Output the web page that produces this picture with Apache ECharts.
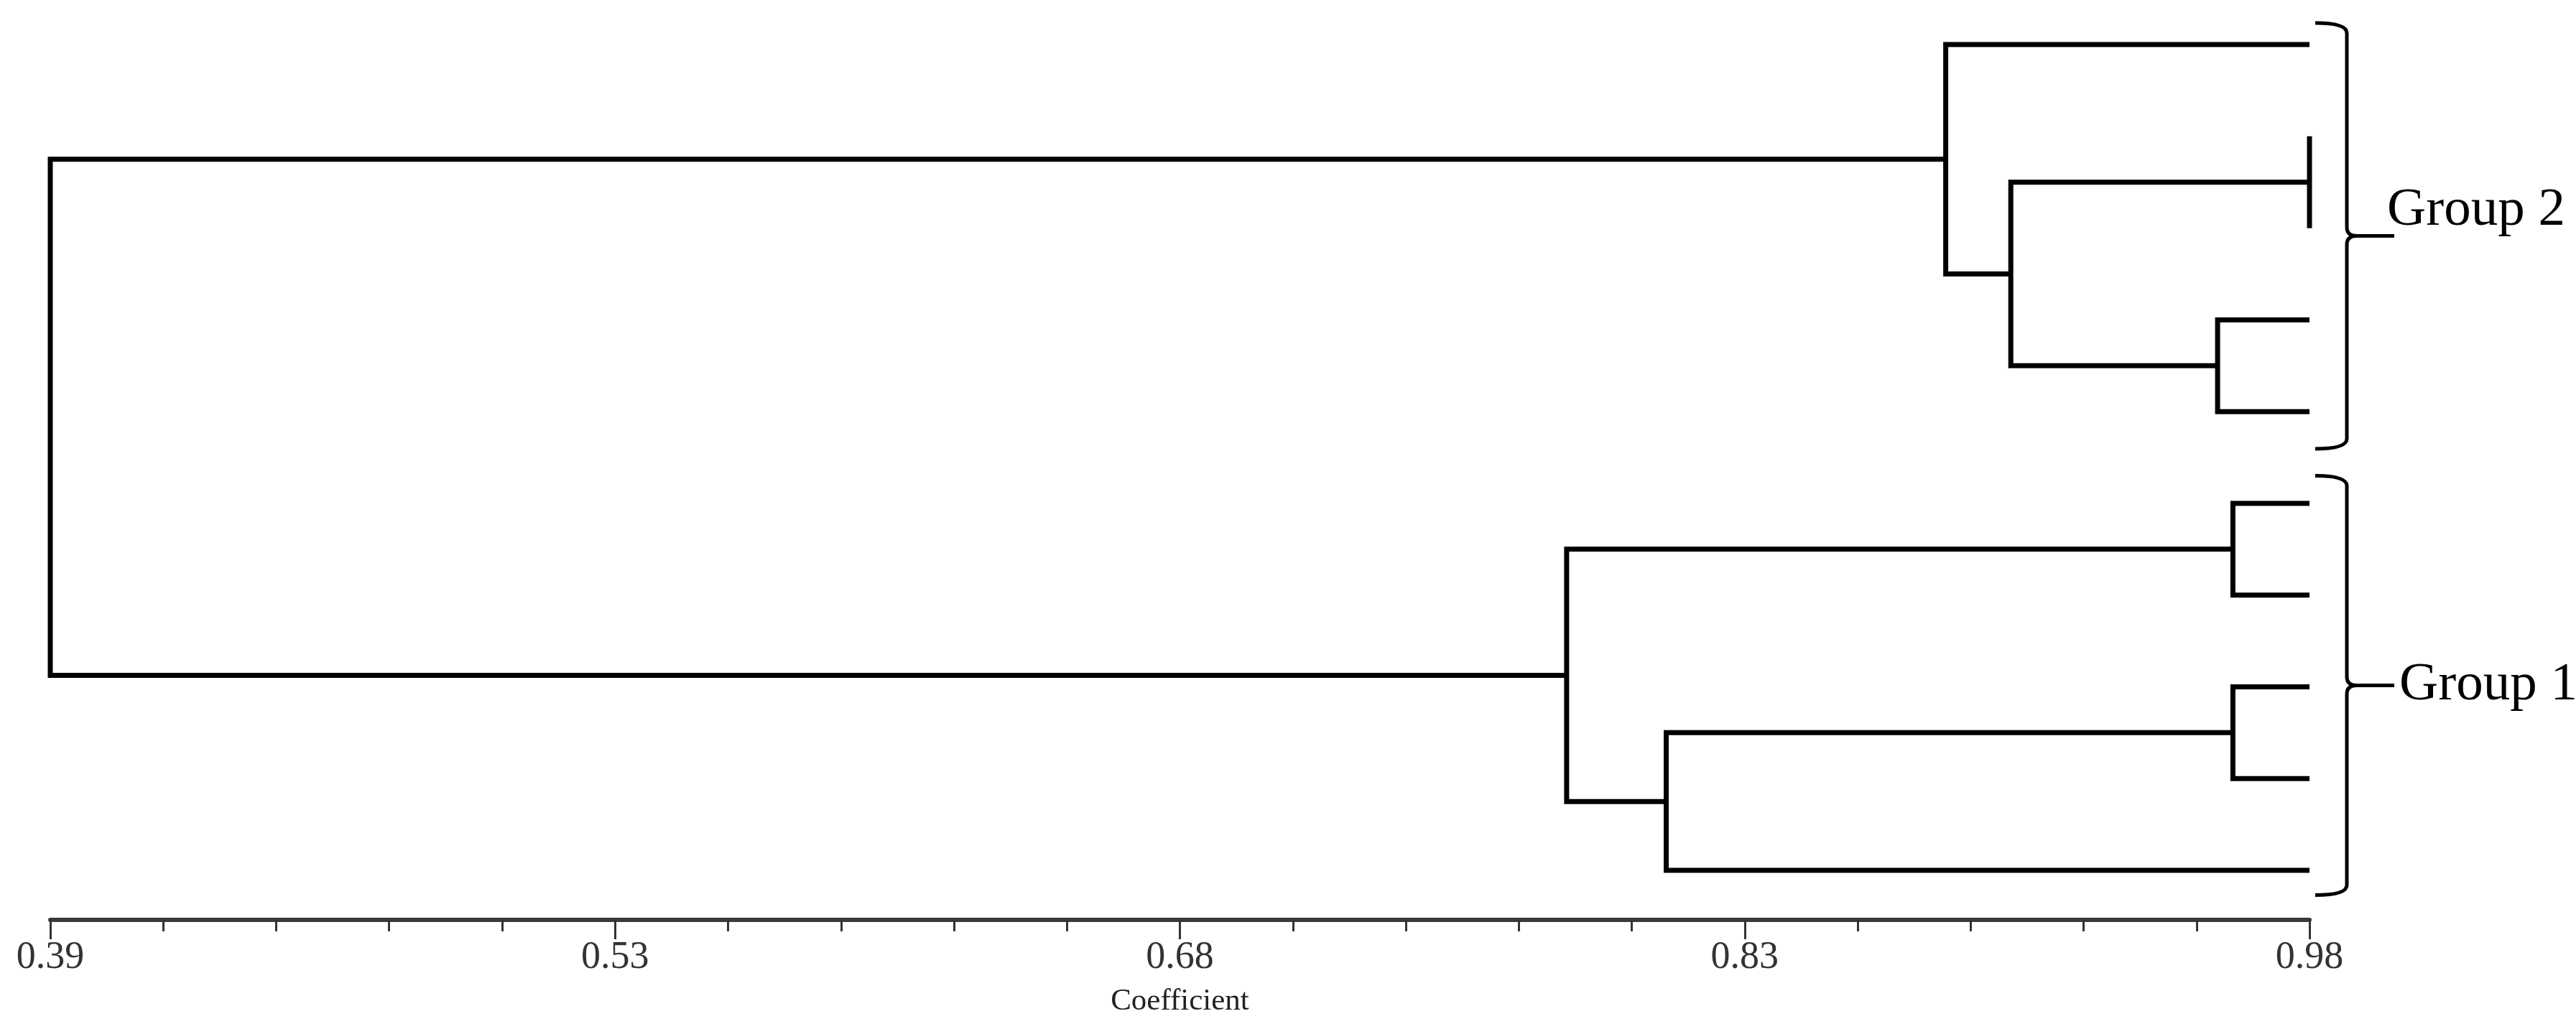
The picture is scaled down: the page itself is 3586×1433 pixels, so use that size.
<!DOCTYPE html>
<html>
<head>
<meta charset="utf-8">
<title>Dendrogram</title>
<script src="https://cdn.jsdelivr.net/npm/echarts@6/dist/echarts.min.js"></script>
<style>
  html, body { margin: 0; padding: 0; background: #fff; }
  #chart { width: 3586px; height: 1433px; }
</style>
</head>
<body>
<div id="chart"></div>
<script>
// leaves, top to bottom (no labels shown in the figure)
var leaves = ['1', '2', '3', '4', '5', '6', '7', '8', '9', '10'];
var leafCoef = 0.98;

// linkage: node 10+k joins mergeA[k] and mergeB[k] at mergeCoef[k]
var mergeA = [1, 3, 5, 7, 10, 0, 13, 12, 15];
var mergeB = [2, 4, 6, 8, 11, 14, 9, 16, 17];
var mergeCoef = [0.98, 0.956, 0.960, 0.960, 0.902, 0.885, 0.812, 0.786, 0.39];

// axis
var axisMin = 0.39;
var axisMax = 0.98;
var tickLabels = ['0.39', '0.53', '0.68', '0.83', '0.98'];

// groups (bracket extent in leaf units)
var groupNames = ['Group 2', 'Group 1'];
var groupTop = [-0.235, 4.70];
var groupBottom = [4.405, 9.27];

// build node coordinates
var nodeX = [];
var nodeY = [];
for (var i = 0; i < leaves.length; i++) {
  nodeX.push(leafCoef);
  nodeY.push(i);
}
var branchLines = [];
for (var k = 0; k < mergeCoef.length; k++) {
  var a = mergeA[k], b = mergeB[k], c = mergeCoef[k];
  var y = (nodeY[a] + nodeY[b]) / 2;
  branchLines.push({
    coords: [[nodeX[a], nodeY[a]], [c, nodeY[a]], [c, nodeY[b]], [nodeX[b], nodeY[b]]]
  });
  nodeX.push(c);
  nodeY.push(y);
}

var step = (axisMax - axisMin) / (tickLabels.length - 1);
var labelDx = [108, 125];
var labelDy = [-35, 0];

var myChart = echarts.init(document.getElementById('chart'));
var option = {
  backgroundColor: '#fff',
  animation: false,
  grid: { left: 70, right: 371, top: 11, bottom: 152, containLabel: false },
  xAxis: {
    type: 'value',
    min: axisMin,
    max: axisMax,
    interval: step,
    name: 'Coefficient',
    nameLocation: 'middle',
    nameGap: 92,
    nameTextStyle: { fontFamily: 'Liberation Serif', fontSize: 43, color: '#222' },
    axisLine: { show: true, onZero: false, lineStyle: { color: '#3a3a3a', width: 6 } },
    axisTick: { show: true, length: 27, lineStyle: { color: '#333', width: 3 } },
    minorTick: { show: true, splitNumber: 5, length: 16, lineStyle: { color: '#333', width: 3 } },
    splitLine: { show: false },
    minorSplitLine: { show: false },
    axisLabel: {
      margin: 26,
      fontFamily: 'Liberation Serif',
      fontSize: 54,
      color: '#333',
      showMinLabel: true,
      showMaxLabel: true,
      formatter: function (v) {
        return tickLabels[Math.round((v - axisMin) / step)];
      }
    }
  },
  yAxis: {
    type: 'value',
    inverse: true,
    min: -0.4,
    max: 9.54,
    show: false
  },
  series: [
    {
      type: 'lines',
      coordinateSystem: 'cartesian2d',
      polyline: true,
      silent: true,
      lineStyle: { color: '#000', width: 7, opacity: 1, curveness: 0 },
      data: branchLines
    },
    {
      type: 'custom',
      silent: true,
      data: groupNames.map(function (n, i) { return [groupTop[i], groupBottom[i]]; }),
      renderItem: function (params, api) {
        var idx = params.dataIndex;
        var x0 = api.coord([axisMax, 0])[0];
        var yT = api.coord([axisMax, api.value(0)])[1];
        var yB = api.coord([axisMax, api.value(1)])[1];
        var yM = (yT + yB) / 2;
        var vx = x0 + 52, curlX = x0 + 8, tipX = vx + 14, endX = x0 + 118;
        var d = 'M' + curlX + ',' + yT +
          ' Q' + vx + ',' + yT + ' ' + vx + ',' + (yT + 14) +
          ' L' + vx + ',' + (yM - 12) +
          ' Q' + vx + ',' + yM + ' ' + tipX + ',' + yM +
          ' Q' + vx + ',' + yM + ' ' + vx + ',' + (yM + 12) +
          ' L' + vx + ',' + (yB - 14) +
          ' Q' + vx + ',' + yB + ' ' + curlX + ',' + yB +
          ' M' + tipX + ',' + yM + ' L' + endX + ',' + yM;
        return {
          type: 'group',
          children: [
            {
              type: 'path',
              shape: { pathData: d },
              style: { fill: 'none', stroke: '#000', lineWidth: 5 }
            },
            {
              type: 'text',
              x: x0 + labelDx[idx],
              y: yM + labelDy[idx],
              style: {
                text: groupNames[idx],
                fontFamily: 'Liberation Serif',
                fontSize: 75,
                fill: '#000',
                align: 'left',
                verticalAlign: 'middle'
              }
            }
          ]
        };
      }
    }
  ]
};
myChart.setOption(option);
</script>
</body>
</html>
